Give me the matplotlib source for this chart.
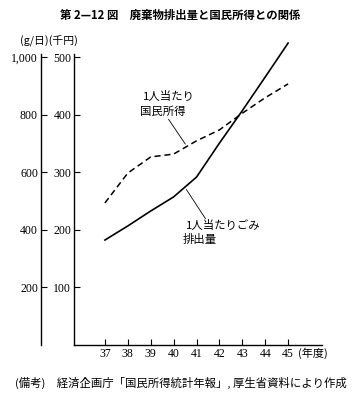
import matplotlib
matplotlib.use("Agg")
import matplotlib.pyplot as plt
import numpy as np

years = [37, 38, 39, 40, 41, 42, 43, 44, 45]
garbage = [365, 414, 466, 515, 584, 702, 815, 932, 1050]   # g/日
income = [247, 299, 327, 332, 355, 374, 403, 430, 454]     # 千円
left_ticks = [200, 400, 600, 800, 1000]
left_labels = ["200", "400", "600", "800", "1,000"]
right_ticks = [100, 200, 300, 400, 500]
right_labels = ["100", "200", "300", "400", "500"]

JP = ["Noto Sans CJK JP", "DejaVu Sans"]
SERIF = ["Liberation Serif", "DejaVu Serif"]

W, H = 360, 397
fig = plt.figure(figsize=(W / 100, H / 100), dpi=100)

def fx(x):
    return x / W

def fy(y):
    return 1 - y / H

ax = fig.add_axes([fx(74), fy(345), fx(322) - fx(74), fy(54) - fy(345)])
ax.set_xlim(35.65, 46.48)
ax.set_ylim(0, 506)
ax.set_xticks(years)
ax.set_xticklabels([str(y) for y in years], family=SERIF, fontsize=8.5)
ax.set_yticks(right_ticks)
ax.set_yticklabels(right_labels, family=SERIF, fontsize=8.5)
for s in ["top", "right"]:
    ax.spines[s].set_visible(False)
for s in ["left", "bottom"]:
    ax.spines[s].set_linewidth(1.0)
ax.tick_params(axis="both", direction="in", length=4, width=0.8, pad=2)

ax2 = ax.twinx()
ax2.set_ylim(0, 1012)
ax2.yaxis.tick_left()
ax2.yaxis.set_label_position("left")
ax2.spines["left"].set_position(("outward", 24))
ax2.spines["left"].set_visible(True)
ax2.spines["left"].set_linewidth(1.0)
for s in ["top", "right", "bottom"]:
    ax2.spines[s].set_visible(False)
ax2.set_yticks(left_ticks)
ax2.set_yticklabels(left_labels, family=SERIF, fontsize=8.5)
ax2.tick_params(axis="y", direction="in", length=4, width=0.8, pad=2)

ax.plot(years, income, color="black", lw=1.1, linestyle=(0, (4, 2.5)))
ax2.plot(years, garbage, color="black", lw=1.2, clip_on=False)

# annotations
xi = 40.58
ax.annotate("", xy=(xi, np.interp(xi, years, income)), xycoords="data",
            xytext=(fx(167), fy(117)), textcoords="figure fraction",
            arrowprops=dict(arrowstyle="-", lw=0.6, color="black"))
fig.text(fx(143), fy(96), "1人当たり", family=JP, fontsize=8.2, va="center", ha="left")
fig.text(fx(140), fy(112), "国民所得", family=JP, fontsize=8.2, va="center", ha="left")

xg = 40.49
ax2.annotate("", xy=(xg, np.interp(xg, years, garbage)), xycoords="data",
             xytext=(fx(207), fy(221)), textcoords="figure fraction",
             arrowprops=dict(arrowstyle="-", lw=0.6, color="black"))
fig.text(fx(186), fy(225), "1人当たりごみ", family=JP, fontsize=8.2, va="center", ha="left")
fig.text(fx(183), fy(239), "排出量", family=JP, fontsize=8.2, va="center", ha="left")

# texts
fig.text(0.5, fy(15), "第 2—12 図　廃棄物排出量と国民所得との関係", family=JP,
         fontsize=8.2, fontweight="bold", ha="center", va="center")
fig.text(fx(20), fy(41), "(g/日)(千円)", family=JP, fontsize=7.8, ha="left", va="center")
fig.text(fx(298), fy(353), "(年度)", family=JP, fontsize=8, ha="left", va="center")
fig.text(fx(15), fy(383), "(備考)　経済企画庁「国民所得統計年報」, 厚生省資料により作成",
         family=JP, fontsize=8.2, ha="left", va="center")

fig.savefig("out.png", dpi=100)
